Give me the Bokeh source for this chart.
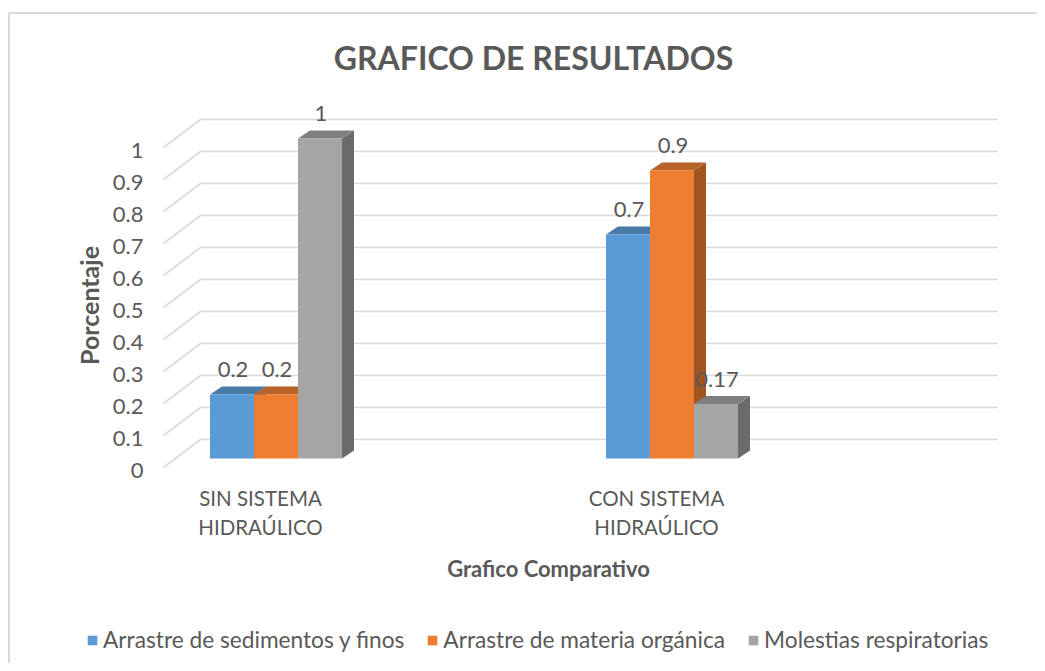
from bokeh.plotting import figure
from bokeh.models import Range1d, Legend, LegendItem
from bokeh.core.properties import value
from bokeh.embed import file_html
from bokeh.resources import INLINE
import math

# ---------------- data ----------------
categories = ["SIN SISTEMA HIDRAÚLICO", "CON SISTEMA HIDRAÚLICO"]
category_lines = [["SIN SISTEMA", "HIDRAÚLICO"], ["CON SISTEMA", "HIDRAÚLICO"]]
series_names = ["Arrastre de sedimentos y finos", "Arrastre de materia orgánica", "Molestias respiratorias"]
sedimentos = [0.2, 0.7]
materia = [0.2, 0.9]
molestias = [1.0, 0.17]
y_ticks = [0, 0.1, 0.2, 0.3, 0.4, 0.5, 0.6, 0.7, 0.8, 0.9, 1.0]
tick_labels = ["0", "0.1", "0.2", "0.3", "0.4", "0.5", "0.6", "0.7", "0.8", "0.9", "1"]
chart_title = "GRAFICO DE RESULTADOS"
x_title = "Grafico Comparativo"
y_title = "Porcentaje"

# ---------------- style / layout ----------------
FONT = value("Lato")
TXT = "#595959"
front_cols = ["#5B9BD5", "#ED7D31", "#A5A5A5"]
top_cols = ["#4A7AA8", "#B8632A", "#7F7F7F"]
side_cols = ["#3F6A94", "#A0541F", "#6B6B6B"]

W, H = 1037, 663
PX = 320.0          # pixels per unit of value
Y0 = 467.0          # picture y of value 0 at front plane


def up(px):
    return px / PX


def pg(pic_y):
    return (Y0 - pic_y) / PX


p = figure(width=W, height=H, x_range=Range1d(0, W), y_range=Range1d(pg(H), pg(0)),
           toolbar_location=None, output_backend="svg", min_border=0,
           x_axis_location=None, y_axis_location=None)
p.grid.visible = False
p.outline_line_color = None
p.background_fill_color = "white"
p.border_fill_color = "white"

# chart border (left & top visible)
p.line([8.5, 8.5, W], [pg(H), pg(12.5), pg(12.5)], line_color="#D9D9D9", line_width=2)

# gridlines in perspective
FRONT_X, BACK_X, GRID_END, BACK_UP = 163, 200, 997, 28
gx = [[FRONT_X, BACK_X, GRID_END] for _ in y_ticks]
gy = [[t, t + up(BACK_UP), t + up(BACK_UP)] for t in y_ticks]
p.multi_line(gx, gy, line_color="#D9D9D9", line_width=1.6)

# tick labels
p.text(x=[143] * len(y_ticks), y=[t - up(3) for t in y_ticks], text=tick_labels,
       text_align="right", text_baseline="middle", text_font=FONT,
       text_font_size="22px", text_color=TXT)

# bars
G0, GSTEP, BW, BAR_UP, DX, DY = 275.5, 396.0, 44.0, 9, 12, 8
series = [sedimentos, materia, molestias]
front_renderers = []
for s, vals in enumerate(series):
    lefts, rights, bottoms, tops = [], [], [], []
    txs, tys, sxs, sys_ = [], [], [], []
    lx, ly, lt = [], [], []
    for i, v in enumerate(vals):
        cx = G0 + GSTEP * i + (s - 1) * BW
        l, r = cx - BW / 2, cx + BW / 2
        b, t = up(BAR_UP), v + up(BAR_UP)
        lefts.append(l); rights.append(r); bottoms.append(b); tops.append(t)
        txs.append([l, l + DX, r + DX, r])
        tys.append([t, t + up(DY), t + up(DY), t])
        sxs.append([r, r + DX, r + DX, r])
        sys_.append([b, b + up(DY), t + up(DY), t])
        lx.append(cx + 1); ly.append(t + up(25)); lt.append(f"{v:g}")
    p.patches(sxs, sys_, fill_color=side_cols[s], line_color=None)
    p.patches(txs, tys, fill_color=top_cols[s], line_color=None)
    fr = p.quad(left=lefts, right=rights, bottom=bottoms, top=tops,
                fill_color=front_cols[s], line_color=None)
    front_renderers.append(fr)
    p.text(x=lx, y=ly, text=lt, text_align="center", text_baseline="middle",
           text_font=FONT, text_font_size="22px", text_color=TXT)

# category labels
CAT0 = 260
for i, lines in enumerate(category_lines):
    for j, line in enumerate(lines):
        p.text(x=[CAT0 + GSTEP * i], y=[pg(497 + 29 * j)], text=[line],
               text_align="center", text_baseline="middle", text_font=FONT,
               text_font_size="20.5px", text_color=TXT)

# titles
p.text(x=[533], y=[pg(57)], text=[chart_title], text_align="center", text_baseline="middle",
       text_font=FONT, text_font_style="bold", text_font_size="32px", text_color=TXT)
p.text(x=[548], y=[pg(568)], text=[x_title], text_align="center", text_baseline="middle",
       text_font=FONT, text_font_style="bold", text_font_size="22px", text_color=TXT)
p.text(x=[88], y=[pg(305)], text=[y_title], angle=math.pi / 2, text_align="center",
       text_baseline="middle", text_font=FONT, text_font_style="bold",
       text_font_size="25px", text_color=TXT)

# legend
legend = Legend(items=[LegendItem(label=n, renderers=[r]) for n, r in zip(series_names, front_renderers)],
                orientation="horizontal", location=(86, H - 653), border_line_color=None,
                background_fill_alpha=0, padding=0, margin=0, spacing=22, label_standoff=5,
                glyph_width=12, glyph_height=12, label_text_font="Lato",
                label_text_font_size="22.7px", label_text_color=TXT)
p.add_layout(legend)

open("out.html", "w").write(file_html(p, INLINE))
